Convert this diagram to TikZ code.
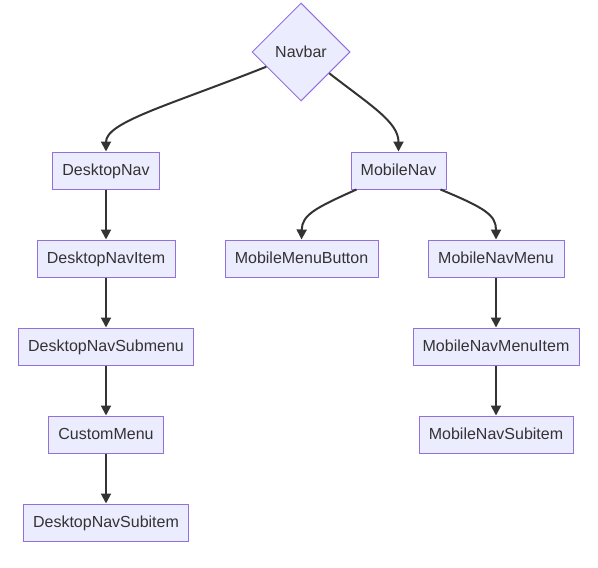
\documentclass[tikz,border=0pt]{standalone}
\usepackage{fontspec}
\setmainfont{Liberation Sans}
\usetikzlibrary{shapes.geometric,arrows.meta}
\definecolor{nodefill}{HTML}{ECECFF}
\definecolor{nodeline}{HTML}{9370DB}
\definecolor{edgeline}{HTML}{333333}
\begin{document}
\begin{tikzpicture}[x=0.75pt,y=-0.75pt,
  box/.style={draw=nodeline,fill=nodefill,line width=0.75pt,minimum height=27.75pt,inner sep=0pt,text height=9.8pt,text depth=1.6pt,text=edgeline,font=\fontsize{12pt}{14pt}\selectfont},
  dia/.style={draw=nodeline,fill=nodefill,line width=0.75pt,shape=diamond,minimum width=73.5pt,minimum height=73.5pt,inner sep=0pt,text height=9.8pt,text depth=1.6pt,text=edgeline,font=\fontsize{12pt}{14pt}\selectfont},
  edge/.style={draw=edgeline,line width=1.5pt,-{Triangle[length=7.5pt,width=7.5pt]}}]
\useasboundingbox (0,0) rectangle (598,567);
\node[dia] (nav) at (301,52) {Navbar};
\node[box,minimum width=80.25pt] (dnav) at (106,170.5) {DesktopNav};
\node[box,minimum width=71.25pt] (mnav) at (398.5,170.5) {MobileNav};
\node[box,minimum width=103.5pt] (dni) at (106,258.5) {DesktopNavItem};
\node[box,minimum width=114.75pt] (mmb) at (301.5,258.5) {MobileMenuButton};
\node[box,minimum width=102pt] (mnm) at (496,258.5) {MobileNavMenu};
\node[box,minimum width=131.25pt] (dns) at (106,346.5) {DesktopNavSubmenu};
\node[box,minimum width=124.5pt] (mnmi) at (496,346.5) {MobileNavMenuItem};
\node[box,minimum width=86.25pt] (cm) at (106,434.5) {CustomMenu};
\node[box,minimum width=115.5pt] (mns) at (496,434.5) {MobileNavSubitem};
\node[box,minimum width=123.75pt] (dnsi) at (106,522.5) {DesktopNavSubitem};
\draw[edge] (nav.203) .. controls (170,105) and (106,122) .. (dnav.north);
\draw[edge] (nav.-37) .. controls (370,105) and (398.5,122) .. (mnav.north);
\draw[edge] (dnav) -- (dni);
\draw[edge] (dni) -- (dns);
\draw[edge] (dns) -- (cm);
\draw[edge] (cm) -- (dnsi);
\draw[edge] ([xshift=-31.5pt]mnav.south) .. controls (315,208) and (302,215) .. (mmb.north);
\draw[edge] ([xshift=31.5pt]mnav.south) .. controls (485,208) and (496,215) .. (mnm.north);
\draw[edge] (mnm) -- (mnmi);
\draw[edge] (mnmi) -- (mns);
\end{tikzpicture}
\end{document}
